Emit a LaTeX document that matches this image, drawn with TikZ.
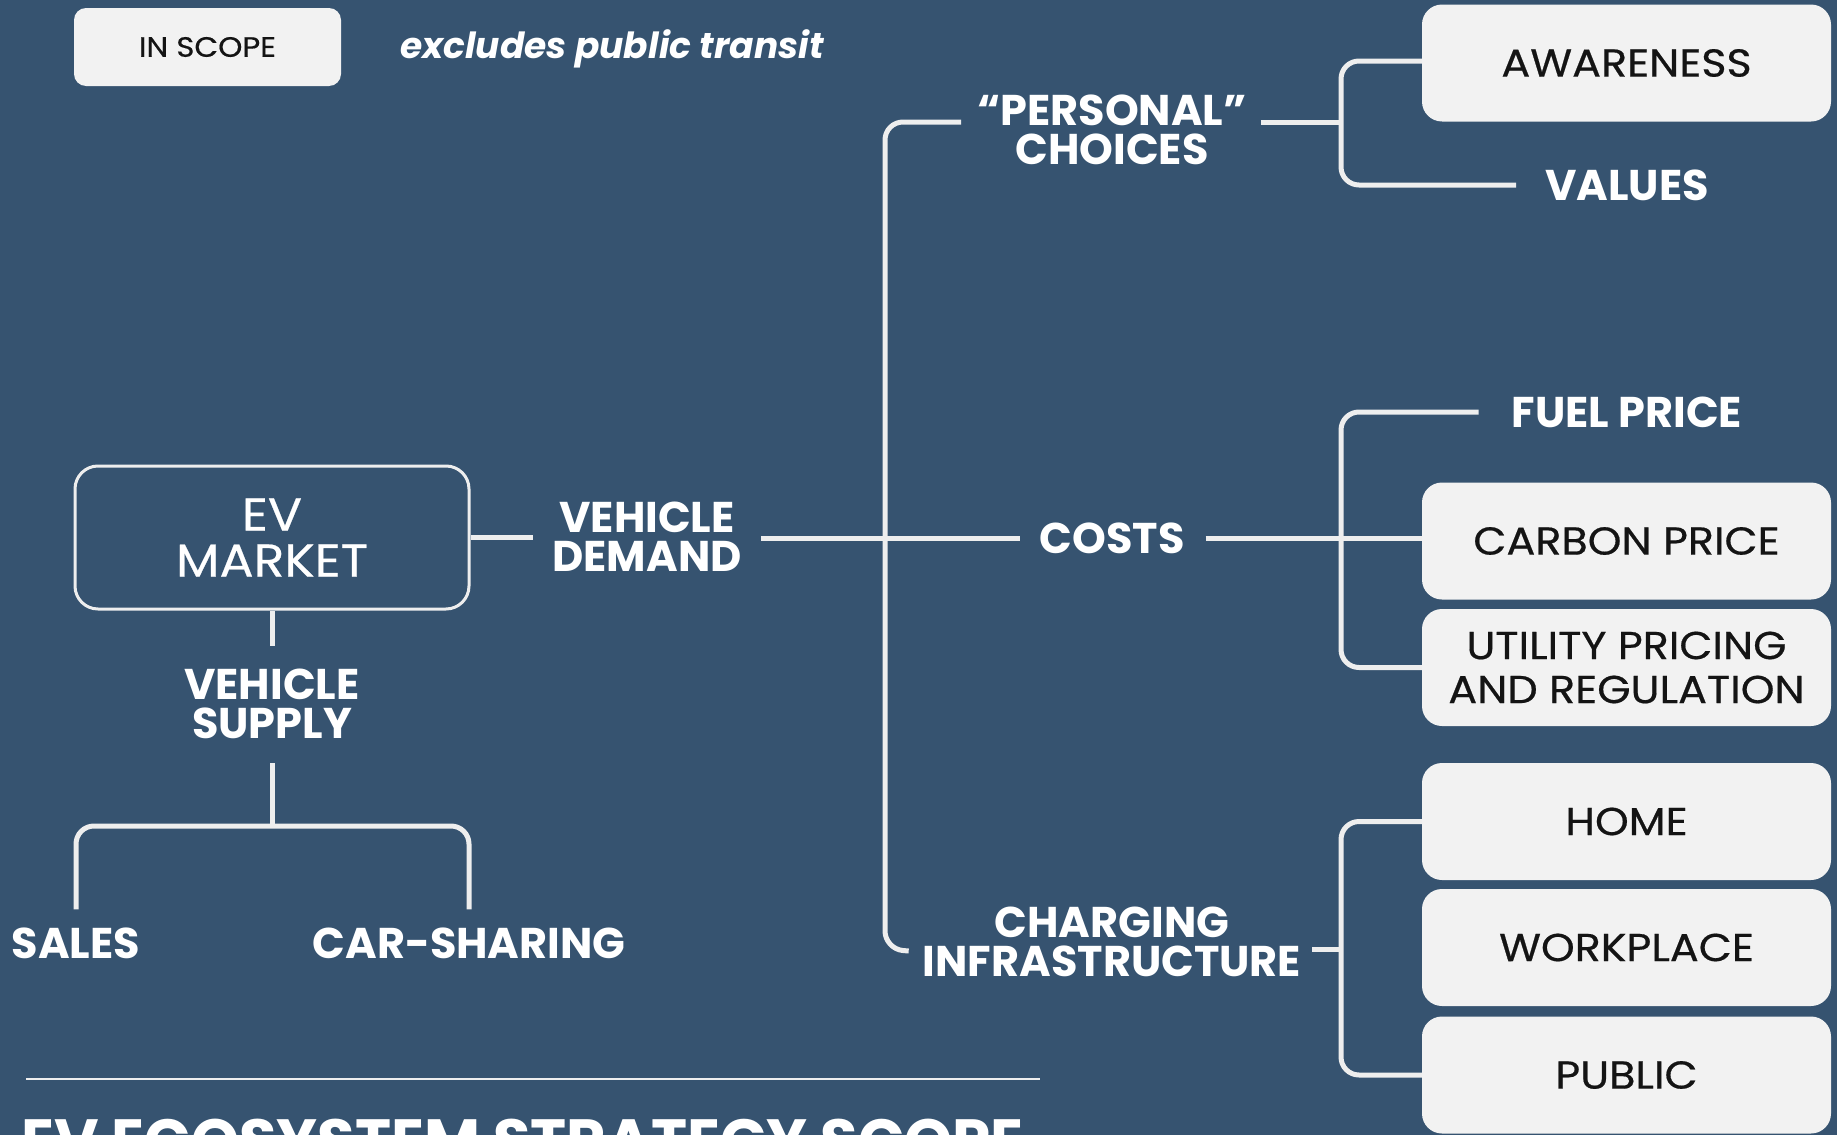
\documentclass[tikz,border=0pt]{standalone}
\usepackage{fontspec}
\usetikzlibrary{calc}
\setmainfont{Poppins}
\newfontfamily\boxfont[FakeStretch=1.1,FakeBold=0.5]{Poppins}
\newfontfamily\lblfont{Poppins}
\definecolor{bgc}{RGB}{54,83,112}
\definecolor{boxc}{RGB}{242,242,242}
\definecolor{linec}{RGB}{238,238,238}
\definecolor{inkc}{RGB}{20,20,20}
\tikzset{
  link/.style={draw=linec, line width=5pt, rounded corners=18pt},
  pill/.style={fill=boxc, rounded corners=20pt, minimum width=409pt,
    minimum height=117pt, text=inkc, align=center, inner sep=0pt,
    font=\boxfont\fontsize{39}{44}\selectfont},
  lbl/.style={text=white, align=center, inner sep=0pt,
    font=\lblfont\bfseries\fontsize{43}{39}\selectfont},
}
\begin{document}
\begin{tikzpicture}[x=1pt,y=-1pt]
  \fill[bgc] (0,0) rectangle (1837,1135);
  \clip (0,0) rectangle (1837,1135);
  \useasboundingbox (0,0) rectangle (1837,1135);

  % legend
  \node[pill, minimum width=267pt, minimum height=78pt, rounded corners=12pt,
        font=\boxfont\fontsize{28}{30}\selectfont] (inscope) at (207.5,47) {IN SCOPE};
  \node[text=white, font=\lblfont\bfseries\itshape\fontsize{36}{40}\selectfont,
        inner sep=0pt] (excl) at (612,49) {excludes public transit};

  % root
  \node[draw=linec, line width=3pt, rounded corners=23pt, minimum width=394pt,
        minimum height=143pt, text=white, align=center, inner sep=0pt,
        font=\boxfont\fontsize{46}{46}\selectfont] (ev) at (272,537.5) {EV\\MARKET};

  % first level
  \node[lbl] (demand) at (647,537) {VEHICLE\\DEMAND};
  \node[lbl] (supply) at (272,704) {VEHICLE\\SUPPLY};
  \node[lbl] (sales) at (76,943) {SALES};
  \node[lbl] (carsharing) at (469,943) {CAR-SHARING};

  % demand branches
  \node[lbl] (personal) at (1112,130) {“PERSONAL”\\CHOICES};
  \node[lbl] (costs) at (1112,538) {COSTS};
  \node[lbl] (charging) at (1112,942) {CHARGING\\INFRASTRUCTURE};

  % leaves
  \node[pill] (awareness) at (1626.5,63) {AWARENESS};
  \node[lbl] (values) at (1627,185) {VALUES};
  \node[lbl] (fuel) at (1627,412) {FUEL PRICE};
  \node[pill] (carbon) at (1626.5,541) {CARBON PRICE};
  \node[pill] (utility) at (1626.5,667.5) {UTILITY PRICING\\AND REGULATION};
  \node[pill] (home) at (1626.5,821.5) {HOME};
  \node[pill] (workplace) at (1626.5,947.5) {WORKPLACE};
  \node[pill] (public) at (1626.5,1075) {PUBLIC};

  % junction points
  \coordinate (trunk) at (885,949);
  \coordinate (spine) at (1341,0);
  \coordinate (sj) at (272,826);

  % supply side
  \draw[link] (ev.south) -- ([yshift=-35pt]ev.south);
  \draw[link] ([yshift=-24pt]supply.south) -- (sj);
  \draw[link] ([yshift=18pt]sales.north) |- (sj) -| ([yshift=18pt]carsharing.north);

  % demand side
  \draw[link] (ev.east) -- ([xshift=-19pt]demand.west |- ev.east);
  \draw[link] ([xshift=19pt]demand.east |- costs) -- ([xshift=-19pt]costs.west);
  \draw[link] ([xshift=-16pt,yshift=8pt]personal.west) -| (trunk)
              -- ([xshift=-14pt,yshift=-2pt]charging.west |- trunk);

  % personal choices
  \draw[link] ([xshift=14pt,yshift=8pt]personal.east) -- ($(personal.east -| spine)+(0,8pt)$);
  \draw[link] ([yshift=2pt]awareness.west) -| (spine |- values) -- ([xshift=-29pt]values.west);

  % costs
  \draw[link] ([xshift=21pt]costs.east) -- (costs.east -| carbon.west);
  \draw[link] ([xshift=-33pt]fuel.west) -| (spine |- utility) -- (utility.west);

  % charging
  \draw[link] ([xshift=11pt]charging.east |- trunk) -- (trunk -| spine);
  \draw[link] (home.west) -| (spine |- public) -- (public.west);

  % footer
  \draw[linec, line width=2pt] (26,1079) -- (1040,1079);
  \node[anchor=base west, text=white, inner sep=0pt,
        font=\lblfont\bfseries\fontsize{61}{64}\selectfont] (title) at (21,1162)
        {EV ECOSYSTEM STRATEGY SCOPE};
\end{tikzpicture}
\end{document}
